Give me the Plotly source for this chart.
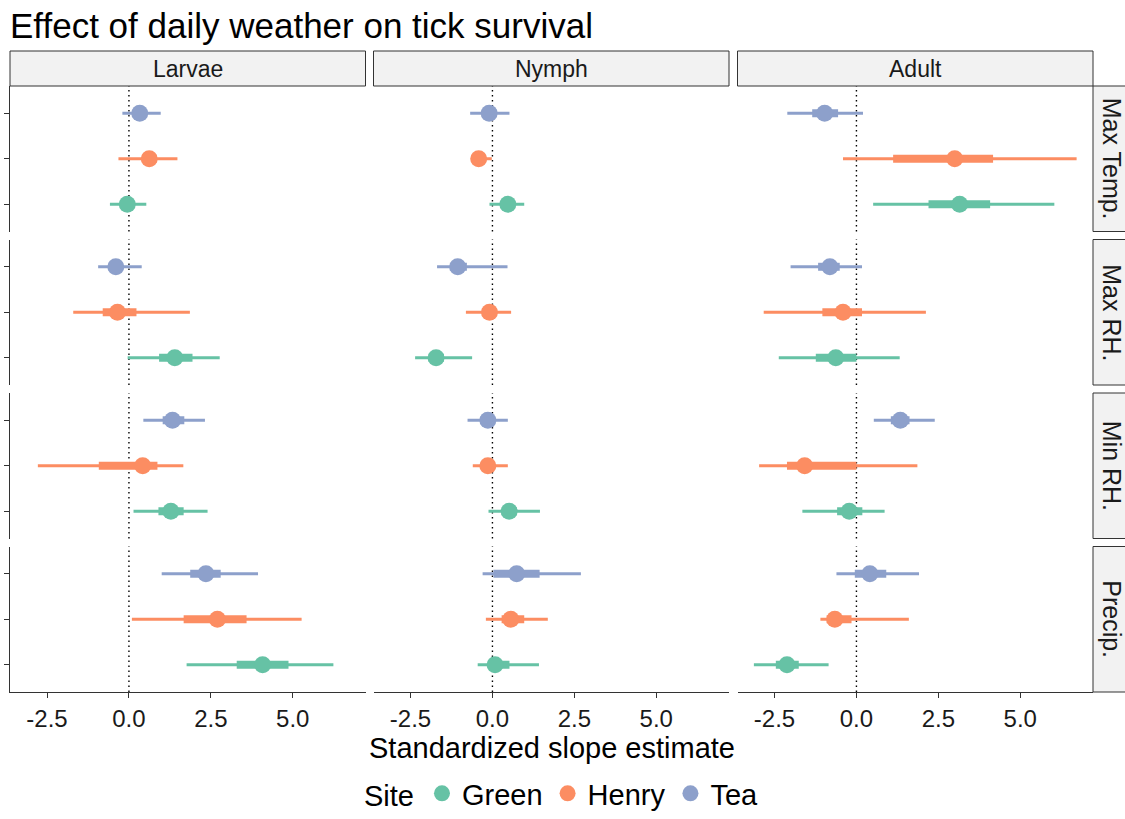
import plotly.graph_objects as go

# ---- data -------------------------------------------------------------
stages = ["Larvae", "Nymph", "Adult"]
variables = ["Max Temp.", "Max RH.", "Min RH.", "Precip."]
sites = ["Green", "Henry", "Tea"]
site_colors = ["#66c2a5", "#fc8d62", "#8da0cb"]

# rows = weather variables, columns = sites (Green, Henry, Tea)
larvae_est = [[-0.05, 0.62, 0.33], [1.40, -0.35, -0.40], [1.28, 0.42, 1.33], [4.08, 2.70, 2.35]]
larvae_lo95 = [[-0.58, -0.32, -0.20], [-0.04, -1.70, -0.94], [0.14, -2.78, 0.44], [1.76, 0.09, 1.00]]
larvae_hi95 = [[0.53, 1.48, 0.97], [2.77, 1.86, 0.39], [2.40, 1.66, 2.32], [6.24, 5.27, 3.94]]
larvae_lo50 = [[-0.25, 0.40, 0.12], [0.92, -0.80, -0.62], [0.90, -0.92, 1.03], [3.29, 1.67, 1.87]]
larvae_hi50 = [[0.15, 0.85, 0.55], [1.94, 0.23, -0.18], [1.67, 0.87, 1.69], [4.87, 3.59, 2.80]]

nymph_est = [[0.47, -0.42, -0.10], [-1.72, -0.09, -1.06], [0.51, -0.14, -0.14], [0.08, 0.56, 0.74]]
nymph_lo95 = [[-0.09, -0.55, -0.68], [-2.36, -0.81, -1.69], [-0.12, -0.60, -0.76], [-0.45, -0.20, -0.30]]
nymph_hi95 = [[0.97, -0.02, 0.52], [-0.62, 0.57, 0.46], [1.45, 0.47, 0.47], [1.42, 1.69, 2.70]]
nymph_lo50 = [[0.28, -0.55, -0.32], [-1.95, -0.32, -1.30], [0.28, -0.35, -0.36], [-0.08, 0.28, 0.03]]
nymph_hi50 = [[0.66, -0.28, 0.12], [-1.48, 0.12, -0.78], [0.75, 0.06, 0.06], [0.52, 0.97, 1.44]]

adult_est = [[3.15, 3.00, -0.97], [-0.63, -0.41, -0.81], [-0.22, -1.58, 1.34], [-2.12, -0.66, 0.41]]
adult_lo95 = [[0.51, -0.41, -2.11], [-2.37, -2.83, -2.01], [-1.65, -2.97, 0.53], [-3.13, -1.10, -0.61]]
adult_hi95 = [[6.04, 6.72, 0.20], [1.32, 2.12, 0.17], [0.86, 1.86, 2.39], [-0.85, 1.60, 1.91]]
adult_lo50 = [[2.20, 1.12, -1.35], [-1.24, -1.04, -1.17], [-0.59, -2.12, 1.05], [-2.46, -0.91, -0.05]]
adult_hi50 = [[4.08, 4.17, -0.56], [0.00, 0.17, -0.51], [0.18, 0.00, 1.62], [-1.76, -0.15, 0.91]]

x_ticks = [-2.5, 0.0, 2.5, 5.0]
x_tick_text = ["-2.5", "0.0", "2.5", "5.0"]

stage_data = {
    "Larvae": (larvae_est, larvae_lo95, larvae_hi95, larvae_lo50, larvae_hi50),
    "Nymph": (nymph_est, nymph_lo95, nymph_hi95, nymph_lo50, nymph_hi50),
    "Adult": (adult_est, adult_lo95, adult_hi95, adult_lo50, adult_hi50),
}

# ---- geometry (pixels on a 1125 x 819 canvas) --------------------------
W, H = 1125, 819
FONT = "Liberation Sans"


def fx(px):
    return px / W


def fy(py):
    return 1 - py / H


col_left = [10, 373.5, 737.5]
col_w = 355.5
row_top = [86, 239.5, 393, 546.5]
row_h = 145.5
strip_top = 51
right_strip_x = 1093

# vertical position of each site within a panel: Tea on top, Green at bottom
site_y = {"Tea": 1, "Henry": 2, "Green": 3}

fig = go.Figure()
layout = {}
shapes = []
annotations = []

for r, var in enumerate(variables):
    for c, stage in enumerate(stages):
        k = r * 3 + c + 1
        xname = "x" if k == 1 else f"x{k}"
        yname = "y" if k == 1 else f"y{k}"
        xkey = "xaxis" if k == 1 else f"xaxis{k}"
        ykey = "yaxis" if k == 1 else f"yaxis{k}"
        bottom_row = r == len(variables) - 1
        left_col = c == 0

        layout[xkey] = dict(
            domain=[fx(col_left[c]), fx(col_left[c] + col_w)],
            anchor=yname,
            range=[-3.63, 7.22],
            showgrid=False,
            zeroline=False,
            showline=bottom_row,
            linecolor="#333333",
            linewidth=1.3,
            ticks="outside" if bottom_row else "",
            ticklen=5,
            tickwidth=1.3,
            tickcolor="#333333",
            tickvals=x_ticks,
            ticktext=x_tick_text,
            showticklabels=bottom_row,
            tickfont=dict(family=FONT, size=24, color="#1a1a1a"),
            fixedrange=True,
        )
        layout[ykey] = dict(
            domain=[fy(row_top[r] + row_h), fy(row_top[r])],
            anchor=xname,
            range=[3.6, 0.4],
            showgrid=False,
            zeroline=False,
            showline=left_col,
            linecolor="#333333",
            linewidth=1.3,
            ticks="outside" if left_col else "",
            ticklen=5,
            tickwidth=1.3,
            tickcolor="#333333",
            tickvals=[1, 2, 3],
            showticklabels=False,
            fixedrange=True,
        )

        # dotted reference line at zero
        shapes.append(dict(
            type="line", xref=xname, yref=f"{yname} domain",
            x0=0, x1=0, y0=0, y1=1,
            line=dict(color="black", width=1.4, dash="1.5px,3.5px"),
            layer="below",
        ))

        est, lo95, hi95, lo50, hi50 = stage_data[stage]
        for s, site in enumerate(sites):
            e = est[r][s]
            yv = site_y[site]
            col = site_colors[s]
            # wide interval
            fig.add_trace(go.Scatter(
                x=[e], y=[yv], xaxis=xname, yaxis=yname, mode="markers",
                marker=dict(size=1, color=col, opacity=0),
                error_x=dict(type="data", symmetric=False,
                             array=[hi95[r][s] - e], arrayminus=[e - lo95[r][s]],
                             color=col, thickness=3, width=0),
                showlegend=False, hoverinfo="skip",
            ))
            # inner interval and point estimate
            fig.add_trace(go.Scatter(
                x=[e], y=[yv], xaxis=xname, yaxis=yname, mode="markers",
                marker=dict(size=17, color=col),
                error_x=dict(type="data", symmetric=False,
                             array=[hi50[r][s] - e], arrayminus=[e - lo50[r][s]],
                             color=col, thickness=8, width=0),
                showlegend=False, name=site,
            ))

# ---- facet strips -----------------------------------------------------
strip_fill = "#f2f2f2"
strip_line = "#333333"
for c, stage in enumerate(stages):
    x0, x1 = col_left[c], col_left[c] + col_w
    shapes.append(dict(type="rect", xref="paper", yref="paper",
                       x0=fx(x0), x1=fx(x1), y0=fy(row_top[0]), y1=fy(strip_top),
                       fillcolor=strip_fill, line=dict(color=strip_line, width=1)))
    annotations.append(dict(text=stage, xref="paper", yref="paper",
                            x=fx((x0 + x1) / 2), y=fy((strip_top + row_top[0]) / 2),
                            showarrow=False, xanchor="center", yanchor="middle",
                            font=dict(family=FONT, size=23, color="#1a1a1a")))

for r, var in enumerate(variables):
    y0, y1 = row_top[r], row_top[r] + row_h
    shapes.append(dict(type="rect", xref="paper", yref="paper",
                       x0=fx(right_strip_x), x1=fx(W + 20), y0=fy(y1), y1=fy(y0),
                       fillcolor=strip_fill, line=dict(color=strip_line, width=1)))
    annotations.append(dict(text=var, xref="paper", yref="paper",
                            x=fx(1112), y=fy((y0 + y1) / 2), textangle=90,
                            showarrow=False, xanchor="center", yanchor="middle",
                            font=dict(family=FONT, size=25, color="#1a1a1a")))

# shared x-axis title
annotations.append(dict(text="Standardized slope estimate", xref="paper", yref="paper",
                        x=fx(551.5), y=fy(748), showarrow=False,
                        xanchor="center", yanchor="middle",
                        font=dict(family=FONT, size=29, color="black")))

# legend entries
for s, site in enumerate(sites):
    fig.add_trace(go.Scatter(
        x=[None], y=[None], mode="markers", name=site,
        marker=dict(size=17, color=site_colors[s]),
        showlegend=True,
    ))

fig.update_layout(
    width=W, height=H,
    margin=dict(l=0, r=0, t=0, b=0),
    paper_bgcolor="white",
    plot_bgcolor="white",
    font=dict(family=FONT, color="black"),
    title=dict(text="Effect of daily weather on tick survival",
               x=fx(10), xanchor="left", xref="paper",
               y=fy(26), yanchor="middle", yref="paper",
               font=dict(family=FONT, size=35, color="black")),
    legend=dict(orientation="h", x=fx(563), xanchor="center",
                y=0, yanchor="bottom",
                title=dict(text="Site", font=dict(size=29)),
                font=dict(family=FONT, size=29, color="black"),
                itemwidth=30, bgcolor="rgba(0,0,0,0)"),
    shapes=shapes,
    annotations=annotations,
    **layout,
)

fig.write_html("out.html")
